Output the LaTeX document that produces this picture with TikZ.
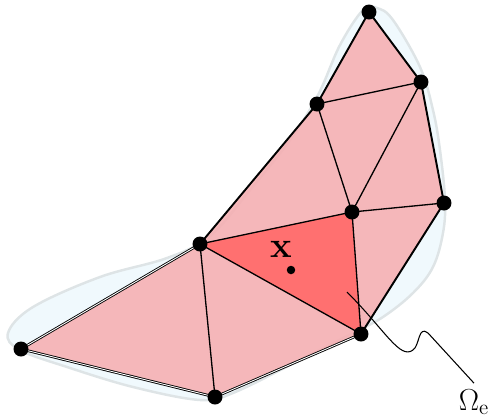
\documentclass[tikz,border=0pt]{standalone}
\usepackage{amsmath, amssymb}
\usepackage{tikz}
\usetikzlibrary{positioning}

\definecolor{blobfill}{RGB}{240,249,253}
\definecolor{blobline}{RGB}{222,228,230}
\definecolor{elemfill}{RGB}{246,172,175}
\definecolor{hotfill}{RGB}{255,112,112}

\begin{document}
\begin{tikzpicture}[x=0.02cm, y=-0.02cm,
                vertex/.style={circle, fill=black, inner sep=0pt, minimum size=0.3cm},
                elem/.style={fill=elemfill, fill opacity=0.85},
                hot/.style={fill=hotfill},
                edge/.style={line width=0.75pt},
                rim/.style={line width=1.1pt},
                rimdouble/.style={draw=black, double=white, double distance=0.5pt, line width=0.5pt},
                blob/.style={draw=blobline, line width=1.4pt, fill=blobfill}
            ]
                \useasboundingbox (0,0) rectangle (488,417);

                % Domain
                \draw [blob] plot[smooth cycle, tension=0.6] coordinates {
                    (8,333) (33,307) (100,277) (167,258) (210,236) (250,190) (290,140)
                    (318,95) (340,45) (363,10) (377,8) (393,20) (420,67) (433,110)
                    (440,150) (445,200) (443,233) (433,267) (413,293) (383,317)
                    (353,333) (300,360) (233,393) (200,400) (133,387) (67,367) (20,350)};

                % Nodes
                \coordinate (left)   at (21,349);
                \coordinate (bottom) at (215,397);
                \coordinate (lowr)   at (361,334);
                \coordinate (mid)    at (200,244);
                \coordinate (ctr)    at (352,212);
                \coordinate (right)  at (444,203);
                \coordinate (upr)    at (421,82);
                \coordinate (upm)    at (317,104);
                \coordinate (top)    at (369,12);

                % Elements
                \fill [elem] (left) -- (bottom) -- (mid) -- cycle;
                \fill [elem] (bottom) -- (lowr) -- (mid) -- cycle;
                \fill [elem] (mid) -- (ctr) -- (upm) -- cycle;
                \fill [elem] (upm) -- (ctr) -- (upr) -- cycle;
                \fill [elem] (upm) -- (upr) -- (top) -- cycle;
                \fill [elem] (ctr) -- (right) -- (upr) -- cycle;
                \fill [elem] (ctr) -- (right) -- (lowr) -- cycle;
                \fill [hot] (mid) -- (lowr) -- (ctr) -- cycle;

                % Edges
                \draw [edge] (bottom) -- (mid);
                \draw [edge] (lowr) -- (mid);
                \draw [edge] (mid) -- (ctr);
                \draw [edge] (lowr) -- (ctr);
                \draw [edge] (upm) -- (ctr);
                \draw [edge] (upm) -- (upr);
                \draw [edge] (ctr) -- (upr);
                \draw [edge] (ctr) -- (right);
                \draw [rimdouble] (left) -- (mid);
                \draw [rimdouble] (left) -- (bottom);
                \draw [rimdouble] (bottom) -- (lowr);
                \draw [rim] (lowr) -- (right) -- (upr) -- (top) -- (upm) -- (mid);

                \foreach \v in {left, bottom, lowr, mid, ctr, right, upr, upm, top}
                    \node [vertex] (dot-\v) at (\v) {};

                % Point and label
                \node (xlabel) at (281,249) {\fontsize{21}{25}\selectfont $\mathbf{x}$};
                \node [circle, fill=black, inner sep=0pt, minimum size=0.17cm] (xpt) at (291,270) {};
                \coordinate (tip) at (347,292);
                \node (omega) at (474,402) {\fontsize{17}{20}\selectfont $\Omega_{\mathrm{e}}$};
                \draw [line width=0.6pt] (tip) .. controls (385,330) and (400,360) .. (413,350)
                    .. controls (420,345) and (418,325) .. (428,333) -- (omega.north);
            \end{tikzpicture}
\end{document}
